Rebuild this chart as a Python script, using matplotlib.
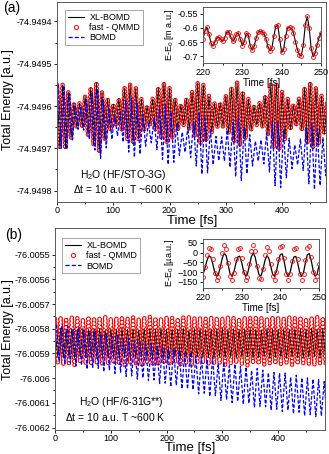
import numpy as np
import matplotlib
matplotlib.use('Agg')
import matplotlib.pyplot as plt
from matplotlib.lines import Line2D

plt.rcParams['font.family'] = ['Liberation Sans', 'DejaVu Sans']
plt.rcParams['mathtext.fontset'] = 'custom'
plt.rcParams['mathtext.rm'] = 'Liberation Sans'
plt.rcParams['mathtext.it'] = 'Liberation Sans:italic'
plt.rcParams['lines.scale_dashes'] = False

# ---- main panels: envelope of the fast oscillation every 10 fs
# values in micro a.u. relative to base energy
t_main = np.arange(0, 481, 10)

base_a = -74.9496
xl_hi_a = [50, 50, 33, 7, 7, 24, 43, 55, 33, 17, 4, 17, 43, 52, 43, 17, 0, 17, 43, 55,
           43, 17, 3, 17, 33, 55, 50, 24, 7, 7, 24, 43, 57, 33, 17, 1, 7, 24, 52, 52,
           33, 17, 2, 17, 43, 55, 43, 24, 7]
xl_lo_a = [-100, -100, -76, -50, -50, -70, -92, -109, -80, -57, -45, -57, -78, -88, -78,
           -57, -45, -57, -76, -85, -76, -57, -45, -55, -72, -88, -83, -62, -50, -50,
           -64, -85, -93, -76, -57, -45, -50, -68, -98, -102, -78, -55, -45, -57, -88,
           -100, -90, -66, -50]
fast_hi_a = xl_hi_a   # fast-QMMD lies on top of XL-BOMD at this scale
fast_lo_a = xl_lo_a
bomd_hi_a = [50, 48, 29, 2, 0, 15, 31, 40, 14, -5, -24, -11, 12, 19, 7, -21, -40, -29, -7, 2,
             -14, -43, -62, -50, -37, -18, -25, -53, -72, -73, -57, -39, -26, -51, -68, -83,
             -80, -64, -38, -39, -59, -76, -92, -78, -53, -42, -55, -75, -93]
bomd_lo_a = [-100, -102, -80, -55, -57, -79, -104, -124, -99, -79, -71, -85, -109, -121,
             -114, -95, -87, -103, -126, -138, -133, -117, -109, -122, -142, -161, -158,
             -139, -129, -130, -145, -167, -176, -160, -142, -130, -137, -156, -188, -193,
             -170, -148, -139, -152, -184, -197, -188, -165, -150]

base_b = -76.0058
xl_hi_b = [-2, 3, -4, 1, -1, 4, -3, 0, 2, -5, 1, -2, 3, -1, 0, -4, 2, 1, -3, 4,
           -1, 0, -2, 3, -4, 1, 2, -3, 0, -1, 4, -2, 1, -3, 0, 2, -1, -4, 3, 0,
           -2, 1, -3, 2, 0, -1, 3, -2, 1]
xl_lo_b = [-115, -119, -116, -120, -114, -118, -117, -121, -115, -118, -116, -119, -114,
           -120, -117, -115, -118, -121, -116, -117, -119, -115, -118, -120, -116, -114,
           -119, -117, -121, -115, -118, -116, -120, -117, -114, -119, -118, -115, -121,
           -116, -117, -120, -115, -118, -119, -116, -114, -120, -117]
fast_hi_b = [40, 46, 42, 48, 44, 39, 47, 43, 45, 50, 41, 44, 48, 42, 46, 40, 45, 49, 43, 41,
             47, 44, 40, 46, 50, 43, 45, 41, 47, 44, 42, 48, 45, 40, 46, 43, 49, 44, 41, 47,
             45, 42, 48, 43, 46, 40, 45, 49, 44]
fast_lo_b = [-138, -145, -140, -147, -136, -142, -144, -139, -146, -141, -137, -143, -148,
             -140, -142, -145, -138, -141, -146, -139, -143, -137, -144, -141, -147, -140,
             -138, -145, -142, -139, -146, -141, -137, -143, -148, -140, -142, -145, -139,
             -141, -144, -138, -146, -142, -140, -143, -147, -139, -141]
bomd_hi_b = [16, 11, 12, -4, 4, -7, -10, -9, -20, -21, -31, -23, -45, -39, -48, -50, -59, -60,
             -68, -70, -83, -81, -88, -95, -96, -111, -114, -124, -115, -142, -135, -150,
             -143, -152, -155, -169, -161, -168, -178, -177, -180, -179, -196, -188, -199,
             -199, -204, -206, -214]
bomd_lo_b = [-132, -144, -138, -150, -148, -164, -159, -160, -174, -168, -181, -176, -193,
             -191, -204, -199, -210, -207, -222, -220, -235, -229, -243, -244, -247, -264,
             -261, -274, -271, -290, -287, -299, -294, -306, -302, -319, -314, -316, -330,
             -326, -335, -330, -344, -338, -352, -348, -356, -353, -365]

# ---- insets, 220-250 fs every 0.5 fs
t_ins = np.arange(220, 250.01, 0.5)
ins_a = [-0.640, -0.610, -0.598, -0.620, -0.652, -0.664, -0.650, -0.635, -0.633, -0.640,
         -0.647, -0.635, -0.616, -0.613, -0.630, -0.646, -0.640, -0.622, -0.618, -0.640,
         -0.663, -0.648, -0.618, -0.625, -0.662, -0.678, -0.665, -0.636, -0.616, -0.612,
         -0.614, -0.620, -0.638, -0.665, -0.681, -0.672, -0.630, -0.595, -0.590, -0.640,
         -0.686, -0.675, -0.630, -0.600, -0.598, -0.602, -0.618, -0.648, -0.676, -0.695,
         -0.697, -0.660, -0.590, -0.560, -0.600, -0.672, -0.701, -0.688, -0.660, -0.635,
         -0.618]
ins_b_fast = [-127, -75, -13, 26, 19, -35, -102, -141, -125, -66,
              0, 37, 17, -52, -121, -141, -102, -35, 19, 25,
              -27, -99, -140, -123, -60, 9, 38, 6, -68, -130,
              -137, -85, -13, 28, 10, -56, -122, -141, -100, -30,
              27, 32, -27, -107, -142, -111, -41, 18, 24, -32,
              -109, -142, -110, -36, 26, 33, -21, -97, -140, -122,
              -56]
ins_b_xl = [-113, -80, -42, -17, -22, -55, -97, -121, -111, -71,
            -27, -3, -16, -62, -108, -121, -97, -55, -22, -18,
            -50, -95, -121, -109, -67, -21, -2, -23, -73, -114,
            -119, -87, -42, -16, -27, -68, -110, -121, -94, -47,
            -9, -6, -45, -99, -122, -103, -59, -22, -19, -54,
            -101, -122, -101, -51, -10, -5, -41, -92, -121, -110,
            -68]

yt_a = [-74.9498, -74.9497, -74.9496, -74.9495, -74.9494]
ytl_a = ['-74.9498', '-74.9497', '-74.9496', '-74.9495', '-74.9494']
yt_b = [-76.0062, -76.0061, -76.006, -76.0059, -76.0058, -76.0057, -76.0056, -76.0055]
ytl_b = ['-76.0062', '-76.0061', '-76.006', '-76.0059', '-76.0058', '-76.0057',
         '-76.0056', '-76.0055']

W, H = 329, 454
fig = plt.figure(figsize=(W / 100, H / 100), dpi=100)


def box(l, t, r, b):
    return [l / W, 1 - b / H, (r - l) / W, (b - t) / H]


def zig(t, hi, lo, shift, base):
    x = np.column_stack([t + shift, t + shift + 5]).ravel()
    y = np.column_stack([hi, lo]).ravel()
    return x, base + y * 1e-6


def draw_main(ax, base, xh, xlo, fh, flo, bh, blo):
    fx, fy = zig(t_main, fh, flo, 0, base)
    ax.plot(fx, fy, color='red', lw=3.3, ls=(0, (0.01, 2.6)), dash_capstyle='round')
    ax.plot(fx, fy, color='white', lw=1.7, ls=(0, (0.01, 2.6)), dash_capstyle='round')
    x, y = zig(t_main, xh, xlo, 0, base)
    ax.plot(x, y, color='black', lw=0.6)
    x, y = zig(t_main, bh, blo, 2.5, base)
    ax.plot(x, y, color='blue', lw=0.9, ls=(0, (2.5, 1.3)))


def style(ax, fs=6.5, pad=1.2):
    ax.tick_params(which='both', direction='out', labelsize=fs, width=0.6, pad=pad)
    ax.tick_params(which='major', length=2.5)
    ax.tick_params(which='minor', length=1.5)
    for s in ax.spines.values():
        s.set_linewidth(0.7)
        s.set_color('0.35')


handles = [Line2D([], [], color='black', lw=0.8),
           Line2D([], [], ls='none', marker='o', mfc='none', mec='red', ms=3, mew=0.7),
           Line2D([], [], color='blue', lw=0.9, ls=(0, (3, 1.5)))]
labels = ['XL-BOMD', 'fast - QMMD', 'BOMD']

# ---------- panel (a)
ax = fig.add_axes(box(57, 2, 326, 202))
draw_main(ax, base_a, xl_hi_a, xl_lo_a, fast_hi_a, fast_lo_a, bomd_hi_a, bomd_lo_a)
ax.set_xlim(0, 478)
ax.set_ylim(-74.949827, -74.949354)
ax.set_xticks([0, 100, 200, 300, 400])
ax.set_xticks(np.arange(50, 478, 100), minor=True)
ax.set_yticks(yt_a)
ax.set_yticklabels(ytl_a)
ax.set_yticks(np.array(yt_a[:-1]) + 0.00005, minor=True)
style(ax)
ax.tick_params(axis='x', pad=0.3)
leg = ax.legend(handles, labels, loc='upper left', bbox_to_anchor=(0.03, 0.96),
                fontsize=6.5, fancybox=False, edgecolor='0.5', handlelength=1.8,
                borderpad=0.3, labelspacing=0.15, handletextpad=0.6, borderaxespad=0)
leg.get_frame().set_linewidth(0.6)

ia = fig.add_axes(box(203, 7, 321, 63))
ia.plot(t_ins, ins_a, color='black', lw=0.8)
ia.plot(t_ins, ins_a, ls='none', marker='o', mfc='none', mec='red', ms=2.8, mew=0.6)
ia.set_xlim(220, 250)
ia.set_ylim(-0.723, -0.527)
ia.set_xticks([220, 230, 240, 250])
ia.set_xticks([225, 235, 245], minor=True)
ia.set_yticks([-0.7, -0.65, -0.6, -0.55])
ia.set_yticklabels(['-0.7', '-0.65', '-0.6', '-0.55'])
style(ia, 6.5)
ia.set_xlabel('Time [fs]', fontsize=7, labelpad=0.5)
ia.set_ylabel('E-E$_0$ [m a.u.]', fontsize=6.5, labelpad=1)

# ---------- panel (b)
bx = fig.add_axes(box(55, 228, 325, 430))
draw_main(bx, base_b, xl_hi_b, xl_lo_b, fast_hi_b, fast_lo_b, bomd_hi_b, bomd_lo_b)
bx.set_xlim(0, 484)
bx.set_ylim(-76.00621, -76.005392)
bx.set_xticks([0, 100, 200, 300, 400])
bx.set_xticks(np.arange(50, 484, 100), minor=True)
bx.set_yticks(yt_b)
bx.set_yticklabels(ytl_b)
bx.set_yticks(np.array(yt_b[:-1]) + 0.00005, minor=True)
style(bx)
bx.tick_params(axis='x', pad=0.3)
leg = bx.legend(handles, labels, loc='upper left', bbox_to_anchor=(0.026, 0.95),
                fontsize=6.5, fancybox=False, edgecolor='0.5', handlelength=1.8,
                borderpad=0.3, labelspacing=0.15, handletextpad=0.6, borderaxespad=0)
leg.get_frame().set_linewidth(0.6)

ib = fig.add_axes(box(203, 239, 319, 288))
ib.plot(t_ins, ins_b_xl, color='black', lw=0.9)
ib.plot(t_ins, ins_b_fast, ls='none', marker='o', mfc='none', mec='red', ms=2.8, mew=0.6)
ib.set_xlim(220, 250)
ib.set_ylim(-181, 70)
ib.set_xticks([220, 230, 240, 250])
ib.set_xticks([225, 235, 245], minor=True)
ib.set_yticks([-150, -100, -50, 0, 50])
style(ib, 6.5)
ib.set_xlabel('Time [fs]', fontsize=7, labelpad=0.5)
ib.set_ylabel('E-E$_0$ [µa.u.]', fontsize=6.5, labelpad=1)

# ---------- texts
def ftext(x, y, s, **kw):
    fig.text(x / W, 1 - y / H, s, ha='center', va='center', **kw)

ftext(12, 8, '(a)', fontsize=10)
ftext(14, 235, '(b)', fontsize=10)
ftext(192, 221, 'Time [fs]', fontsize=9.5)
ftext(190, 448, 'Time [fs]', fontsize=9.5)
ftext(8, 100, 'Total Energy [a.u.]', fontsize=9, rotation=90)
ftext(8, 330, 'Total Energy [a.u.]', fontsize=9, rotation=90)
ftext(123, 175, 'H$_2$O (HF/STO-3G)', fontsize=7.5)
ftext(123, 189, '$\\Delta$t = 10 a.u. T ~600 K', fontsize=7.5)
ftext(121, 402, 'H$_2$O (HF/6-31G**)', fontsize=7.5)
ftext(115, 417, '$\\Delta$t = 10 a.u. T ~600 K', fontsize=7.5)

fig.savefig('out.png', dpi=100)
